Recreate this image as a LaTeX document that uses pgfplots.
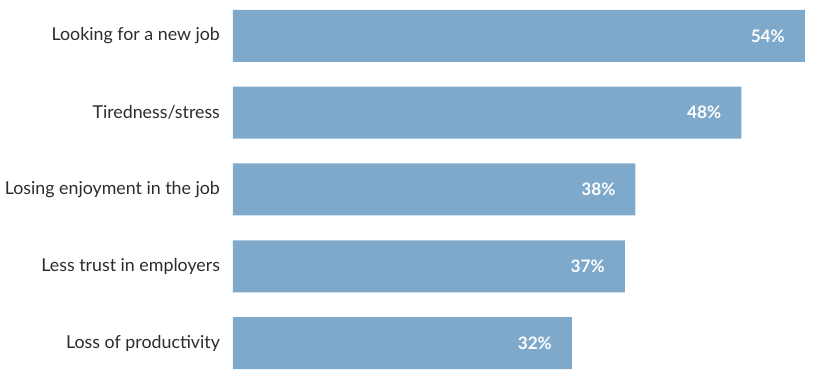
\documentclass[border=0pt]{standalone}
\usepackage{pgfplots}
\pgfplotsset{compat=1.18}
\usepackage{fontspec}
\setmainfont{Lato}
\definecolor{barblue}{HTML}{7EA9CB}
\definecolor{txt}{HTML}{2E2A30}
\begin{document}
\begin{tikzpicture}
\begin{axis}[
  scale only axis,
  width=292.5pt, height=191.5pt,
  xbar, bar width=26pt,
  xmin=0, xmax=55.24,
  ymin=-0.469, ymax=4.521,
  y dir=reverse,
  axis line style={draw=none},
  xtick=\empty,
  ytick={0,1,2,3,4},
  yticklabels={Looking for a new job,Tiredness/stress,Losing enjoyment in the job,Less trust in employers,Loss of productivity},
  yticklabel style={font=\fontsize{8.9}{10}\selectfont, text=txt, xshift=-3pt},
  major tick length=0pt,
  nodes near coords={\pgfmathprintnumber[assume math mode=true]{\pgfplotspointmeta}\%},
  nodes near coords style={anchor=east, xshift=-6.5pt, text=white, font=\bfseries\fontsize{8.6}{10}\selectfont},
  clip=false,
]
\addplot[fill=barblue, draw=none] coordinates {(54,0) (48,1) (38,2) (37,3) (32,4)};
\end{axis}
\pgfresetboundingbox
\path (-116.5pt,0) rectangle (292.5pt,191.5pt);
\end{tikzpicture}
\end{document}
